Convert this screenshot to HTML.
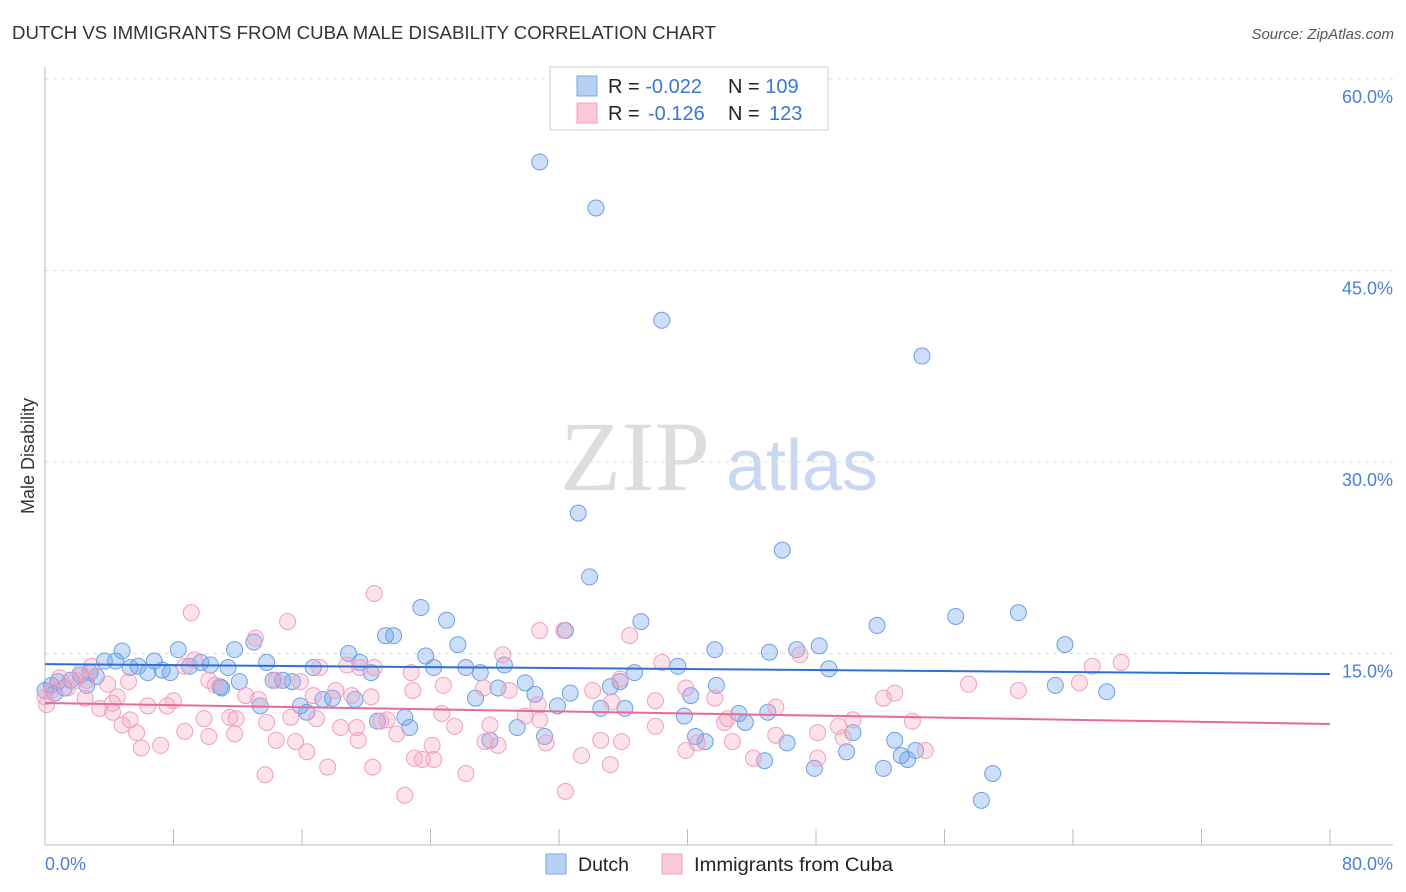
<!DOCTYPE html>
<html><head><meta charset="utf-8"><style>
body{margin:0;background:#fff;font-family:"Liberation Sans",sans-serif;}
#wrap{position:relative;width:1406px;height:892px;overflow:hidden;}
</style></head><body>
<div id="wrap">
<svg id="svg" width="1406" height="892" xmlns="http://www.w3.org/2000/svg">
<text x="12" y="39" font-size="18" fill="#333" textLength="704" lengthAdjust="spacingAndGlyphs">DUTCH VS IMMIGRANTS FROM CUBA MALE DISABILITY CORRELATION CHART</text>
<text x="1394" y="39" font-size="15" fill="#555" font-style="italic" text-anchor="end">Source: ZipAtlas.com</text>
<text x="0" y="0" transform="translate(34,456) rotate(-90)" font-size="18" fill="#333" text-anchor="middle">Male Disability</text>
<g>
<text x="635" y="490" font-size="100" fill="#ddd" font-family="Liberation Serif,serif" text-anchor="middle">ZIP</text>
<text x="802" y="490" font-size="72" fill="#c8d8f0" text-anchor="middle">atlas</text>
</g>
<g id="grid"></g><g id="pts"></g><g id="trend"></g>
<g>
<rect x="550" y="67" width="278" height="63" fill="#fff" stroke="#ccc"/>
<rect x="577" y="76" width="20" height="20" fill="#b8d0f4" stroke="#7aa6e6"/>
<rect x="577" y="103" width="20" height="20" fill="#fac8d8" stroke="#f0a0bc"/>
<text x="608" y="93" font-size="20" fill="#222">R = <tspan fill="#3a76d6">-0.022</tspan><tspan x="728">N = </tspan><tspan fill="#3a76d6">109</tspan></text>
<text x="608" y="120" font-size="20" fill="#222">R = <tspan x="648" fill="#3a76d6">-0.126</tspan><tspan x="728">N = </tspan><tspan fill="#3a76d6" x="769">123</tspan></text>
</g>
<g>
<rect x="546" y="854" width="20" height="20" fill="#b8d0f4" stroke="#7aa6e6"/>
<text x="578" y="871" font-size="19.5" fill="#222">Dutch</text>
<rect x="662" y="854" width="20" height="20" fill="#fac8d8" stroke="#f0a0bc"/>
<text x="694" y="871" font-size="19.5" fill="#222" textLength="199" lengthAdjust="spacingAndGlyphs">Immigrants from Cuba</text>
</g>
</svg>
</div>
<script>
const yTicks=[15,30,45,60];
const xTickLabels=["0.0%","80.0%"];
const dutchX=[30.8,34.3,38.4,54.6,33.2,33.9,45.9,23.4,25.0,21.2,21.7,37.1,32.4,25.7,60.6,56.7,51.8,41.7,45.1,46.8,48.2,63.5,4.8,8.3,11.8,6.8,3.7,4.4,5.8,6.4,7.3,7.8,9.0,9.7,10.3,11.4,13.0,13.8,14.2,14.8,15.4,16.7,18.9,19.6,20.3,23.7,24.2,26.2,27.1,28.6,28.2,29.9,30.5,31.9,32.7,34.6,35.2,35.8,36.1,36.7,39.4,40.2,41.8,43.2,43.6,45.0,48.8,62.9,66.1,15.9,16.3,17.3,17.9,19.3,12.1,13.4,10.9,20.7,22.4,22.7,26.8,27.7,29.4,31.1,39.8,40.5,41.1,44.8,46.2,47.9,50.3,49.9,52.2,52.9,53.3,53.7,54.2,59.0,58.3,0.8,1.2,0.4,1.6,2.2,2.8,3.2,2.6,0.6,0.0,11.0,5.3];
const dutchY=[53.5,49.9,41.1,38.3,26.0,21.0,23.1,18.6,17.6,16.4,16.4,17.5,16.8,15.7,18.2,17.9,17.2,15.3,15.1,15.3,15.6,15.7,15.2,15.3,15.3,14.4,14.4,14.4,14.0,13.5,13.7,13.5,14.0,14.3,14.1,13.9,15.9,14.3,12.9,12.9,12.8,13.9,15.0,14.3,13.5,14.8,13.9,13.9,13.5,14.1,12.3,12.7,11.8,10.9,11.9,10.7,12.4,12.8,10.7,13.5,14.0,11.7,12.5,10.3,9.6,10.4,13.8,12.5,12.0,10.9,10.4,11.4,11.5,11.4,12.8,10.9,12.4,9.7,10.0,9.2,11.5,8.2,9.2,8.5,10.1,8.5,8.1,6.6,8.0,6.0,8.8,7.3,6.0,8.2,7.0,6.7,7.4,5.6,3.5,12.8,12.3,12.5,12.9,13.3,13.5,13.2,12.5,11.9,12.1,12.3,13.9];
const cubaX=[20.5,9.1,15.1,13.1,32.3,36.4,38.4,47.0,67.0,65.2,30.8,28.5,22.8,18.8,19.6,17.1,9.3,8.7,2.9,3.9,5.2,4.5,1.4,1.9,2.2,2.6,0.9,0.4,0.0,0.1,3.4,4.2,6.4,7.6,8.0,10.2,10.6,12.5,13.3,14.4,15.9,16.7,18.1,19.1,20.3,20.5,22.9,24.8,27.3,28.9,30.7,34.1,35.3,35.8,38.0,39.9,41.7,42.3,45.5,52.2,52.9,57.5,60.6,64.4,50.3,54.0,49.4,48.1,45.5,42.5,38.0,29.9,30.8,27.7,28.2,25.5,24.7,21.3,20.9,19.4,18.4,16.9,15.3,13.8,11.9,11.5,9.9,5.3,4.8,4.2,2.5,5.7,7.2,6.0,8.7,10.2,11.8,14.4,15.6,16.3,19.5,21.9,24.1,27.4,31.2,34.6,35.9,40.6,39.9,42.8,44.1,48.1,49.7,54.8,23.0,23.5,24.2,17.6,20.4,26.2,33.4,35.2,13.7,22.4,32.4];
const cubaY=[19.7,18.2,17.5,16.2,16.8,16.4,14.3,14.9,14.3,14.0,16.8,14.9,13.5,14.1,13.9,13.9,14.5,14.0,14.0,12.6,12.8,11.6,12.3,12.9,13.5,12.9,13.1,12.1,11.6,11.0,10.7,11.1,10.9,10.9,11.3,12.9,12.5,11.7,11.4,12.9,12.8,11.7,12.1,11.7,11.6,13.9,12.1,12.5,12.3,12.1,11.0,12.1,11.2,13.0,11.3,12.3,11.5,9.6,10.8,11.5,11.9,12.6,12.1,12.7,9.8,9.7,9.3,8.8,8.6,9.9,9.3,10.1,9.8,9.4,7.8,9.3,10.3,9.8,9.7,9.2,9.2,9.9,10.0,9.6,9.9,10.0,9.9,9.8,9.4,10.4,11.5,8.8,7.8,7.6,8.9,8.5,8.7,8.2,8.1,7.3,8.2,8.7,7.8,8.1,8.0,8.2,8.1,8.0,7.4,8.1,6.8,6.8,8.4,7.4,6.8,6.7,6.7,6.1,6.1,5.6,7.0,6.3,5.5,3.9,4.2];
const dutchTrend=[14.17,13.39];
const cubaTrend=[11.12,9.48];

const NS="http://www.w3.org/2000/svg";
const X0=45,X1=1330,Y0=845,YTOP=79;
const sx=v=>X0+(v/80)*(X1-X0);
const sy=v=>Y0-(v/60)*(Y0-YTOP);
function mk(tag,attrs,parent){const e=document.createElementNS(NS,tag);for(const k in attrs)e.setAttribute(k,attrs[k]);parent.appendChild(e);return e;}
const grid=document.getElementById('grid');
yTicks.forEach(t=>{
  const l=mk('line',{x1:45,x2:1393,y1:sy(t),y2:sy(t),stroke:'#ddd','stroke-dasharray':'4,4'},grid);
  
  
  const tx=mk('text',{x:1393,y:sy(t)+24,'font-size':18,fill:'#4a7fd6','text-anchor':'end'},grid);
  tx.textContent=t.toFixed(1)+'%';
  
  
});
const ax=mk('line',{x1:45,x2:45,y1:67,y2:845,stroke:'#bbb'},grid);


const bx=mk('line',{x1:45,x2:1393,y1:845,y2:845,stroke:'#bbb'},grid);


for(let i=0;i<=10;i++){
  const t=mk('line',{x1:sx(i*8),x2:sx(i*8),y1:829,y2:845,stroke:'#bbb'},grid);
  
  
}
const xl0=mk('text',{x:45,y:870,'font-size':18,fill:'#4a7fd6'},grid);xl0.textContent=xTickLabels[0];


const xl1=mk('text',{x:1393,y:870,'font-size':18,fill:'#4a7fd6','text-anchor':'end'},grid);xl1.textContent=xTickLabels[1];


const pts=document.getElementById('pts');
dutchX.forEach((x,i)=>{
  const c=mk('circle',{cx:sx(x),cy:sy(dutchY[i]),r:8,fill:'rgba(110,160,235,0.35)',stroke:'#6f9fe4','stroke-width':1},pts);
  
  
});
cubaX.forEach((x,i)=>{
  const c=mk('circle',{cx:sx(x),cy:sy(cubaY[i]),r:8,fill:'rgba(245,160,190,0.3)',stroke:'#f0a0bc','stroke-width':1},pts);
  
  
});
const tr=document.getElementById('trend');
const l1=mk('line',{x1:sx(0),x2:sx(80),y1:sy(dutchTrend[0]),y2:sy(dutchTrend[1]),stroke:'#2e6fd6','stroke-width':2},tr);


const l2=mk('line',{x1:sx(0),x2:sx(80),y1:sy(cubaTrend[0]),y2:sy(cubaTrend[1]),stroke:'#e86a9a','stroke-width':2},tr);


</script>
</body></html>
